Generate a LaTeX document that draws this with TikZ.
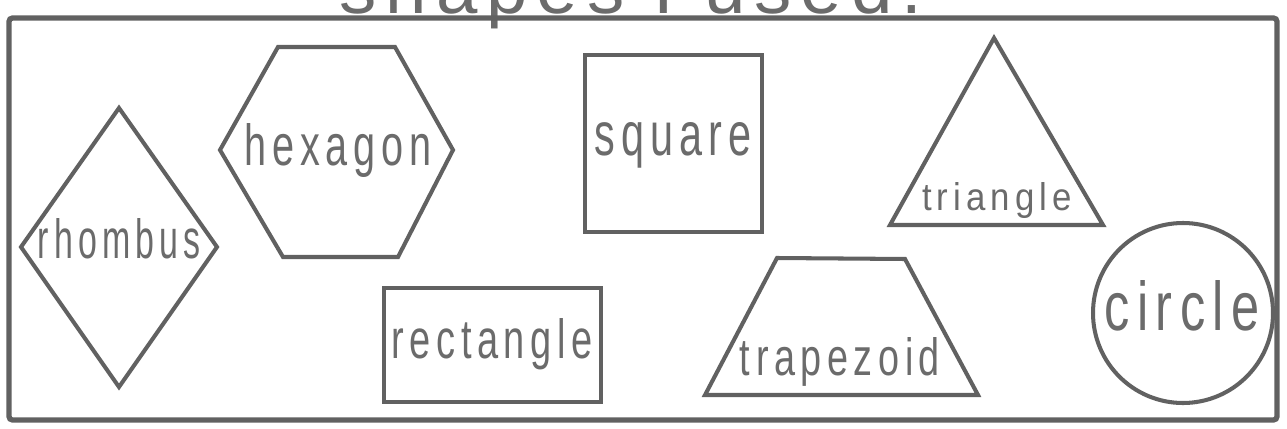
\documentclass[tikz,border=0pt]{standalone}
\usepackage{fontspec}
\usepackage{graphicx}
\newfontfamily\shapefont{Liberation Sans}[FakeStretch=0.68,LetterSpace=10]
\newfontfamily\titlefont{Liberation Sans}[LetterSpace=12]
\definecolor{pencil}{gray}{0.38}
\definecolor{lead}{gray}{0.42}
\newlength\pxunit
\setlength\pxunit{0.02cm}
% label squeezed to a given ink width and height (in px)
\newcommand{\fitlabel}[3]{\resizebox{#1\pxunit}{#2\pxunit}{#3}}

\begin{document}
\begin{tikzpicture}[
    x=0.02cm, y=-0.02cm,
    outline/.style={
        draw=pencil,
        line width=2.3pt
    },
    frame/.style={
        draw=pencil,
        line width=3pt,
        rounded corners=2pt
    },
    lbl/.style={
        font=\shapefont,
        text=lead,
        inner sep=0pt,
        anchor=base
    },
    titletext/.style={
        font=\titlefont,
        text=lead,
        inner sep=0pt,
        anchor=base
    }
]

\useasboundingbox (0,0) rectangle (1287,429);
\fill[white] (0,0) rectangle (1287,429);
\clip (0,0) rectangle (1287,429);

%--- title, cut off at the top ---
\node[titletext] (title) at (631,14) {\resizebox{582\pxunit}{!}{shapes I used.}};

%--- outer frame ---
\draw[frame] (9,18) rectangle (1277,420);

%--- rhombus ---
\draw[outline] (119,108) -- (217,247) -- (119,387) -- (21,247) -- cycle;
\node[lbl] (rhombus) at (119,258) {\fitlabel{162}{40}{rhombus}};

%--- hexagon ---
\draw[outline] (278,47) -- (395,47) -- (453,150) -- (398,257)
    -- (283,257) -- (220,150) -- cycle;
\node[lbl] (hexagon) at (338,165) {\fitlabel{187}{42}{hexagon}};

%--- square ---
\draw[outline] (585,55) rectangle (762,232);
\node[lbl] (square) at (673,155) {\fitlabel{157}{33}{square}};

%--- triangle ---
\draw[outline] (994,38) -- (1103,225) -- (890,225) -- cycle;
\node[lbl] (triangle) at (997,210) {\fitlabel{150}{28}{triangle}};

%--- rectangle ---
\draw[outline] (384,288) rectangle (601,402);
\node[lbl] (rectangle) at (492,358) {\fitlabel{201}{40}{rectangle}};

%--- trapezoid ---
\draw[outline] (777,258) -- (905,259) -- (978,395) -- (705,395) -- cycle;
\node[lbl] (trapezoid) at (840,375) {\fitlabel{200}{38}{trapezoid}};

%--- circle ---
\draw[outline] (1183,313) circle [radius=90];
\node[lbl] (circle) at (1182,330) {\fitlabel{155}{50}{circle}};

\end{tikzpicture}
\end{document}
